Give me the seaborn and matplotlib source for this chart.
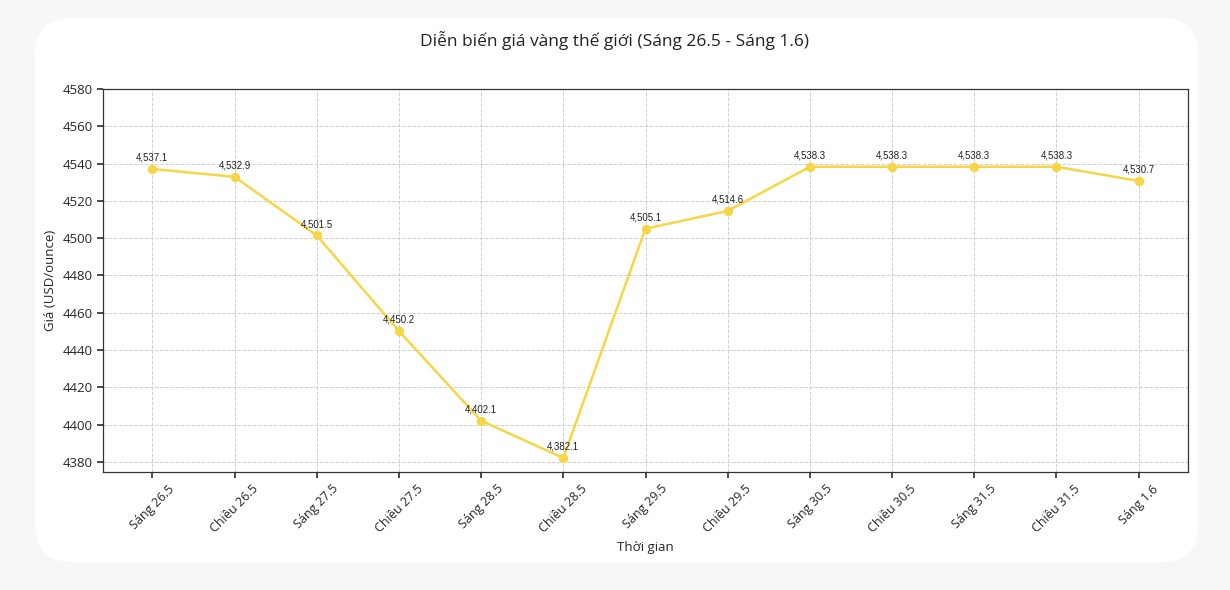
import matplotlib
matplotlib.use("Agg")
import matplotlib.pyplot as plt
import seaborn as sns
import pandas as pd
from matplotlib.patches import FancyBboxPatch

# gold price data
sessions = ["Sáng 26.5", "Chiều 26.5", "Sáng 27.5", "Chiều 27.5", "Sáng 28.5", "Chiều 28.5",
            "Sáng 29.5", "Chiều 29.5", "Sáng 30.5", "Chiều 30.5", "Sáng 31.5", "Chiều 31.5", "Sáng 1.6"]
prices = [4537.1, 4532.9, 4501.5, 4450.2, 4402.1, 4382.1,
          4505.1, 4514.6, 4538.3, 4538.3, 4538.3, 4538.3, 4530.7]

line_color = "#F6D646"

sns.set_theme(style="ticks")
plt.rcParams["font.family"] = ["Open Sans", "DejaVu Sans"]

df = pd.DataFrame({"session": sessions, "price": prices})
df["pos"] = range(len(df))

fig = plt.figure(figsize=(12.3, 5.9), dpi=100)
fig.patch.set_facecolor("#F9F6F6")

# white rounded card behind the chart
card = FancyBboxPatch((35 / 1230, 28 / 590), 1163 / 1230, 544 / 590,
                      boxstyle="round,pad=0,rounding_size=0.03",
                      transform=fig.transFigure, facecolor="white", edgecolor="none",
                      mutation_aspect=1230 / 590, zorder=-10)
fig.patches.append(card)

ax = fig.add_axes([103 / 1230, 118 / 590, 1085 / 1230, 383 / 590])
ax.set_zorder(1)
ax.set_facecolor("white")

sns.lineplot(data=df, x="pos", y="price", ax=ax, color=line_color, linewidth=1.8,
             marker="o", markersize=6, markeredgecolor=line_color, zorder=3)

for x, y in zip(df["pos"], df["price"]):
    ax.annotate(f"{y:,.1f}", (x, y), textcoords="offset points", xytext=(0, 6),
                ha="center", fontsize=7, color="#222222", family=["Liberation Sans", "DejaVu Sans"])

ax.set_xlim(-0.6, len(sessions) - 0.4)
ax.set_ylim(4374.6, 4580)
ax.set_yticks(range(4380, 4581, 20))
ax.set_xticks(df["pos"])
ax.set_xticklabels(sessions, rotation=45, fontsize=9)
ax.tick_params(axis="y", labelsize=9.5)
ax.tick_params(axis="both", length=4, color="#333333")
ax.grid(True, linestyle="--", linewidth=0.7, color="#D0D0D0")
for s in ax.spines.values():
    s.set_color("#333333")
    s.set_linewidth(0.9)

ax.set_xlabel("Thời gian", fontsize=9.5, labelpad=4)
ax.set_ylabel("Giá (USD/ounce)", fontsize=9.5)
fig.text(0.5, 1 - 40 / 590, "Diễn biến giá vàng thế giới (Sáng 26.5 - Sáng 1.6)",
         ha="center", va="center", fontsize=12.5, color="#222222")

fig.savefig("out.png", dpi=100, facecolor=fig.get_facecolor())
